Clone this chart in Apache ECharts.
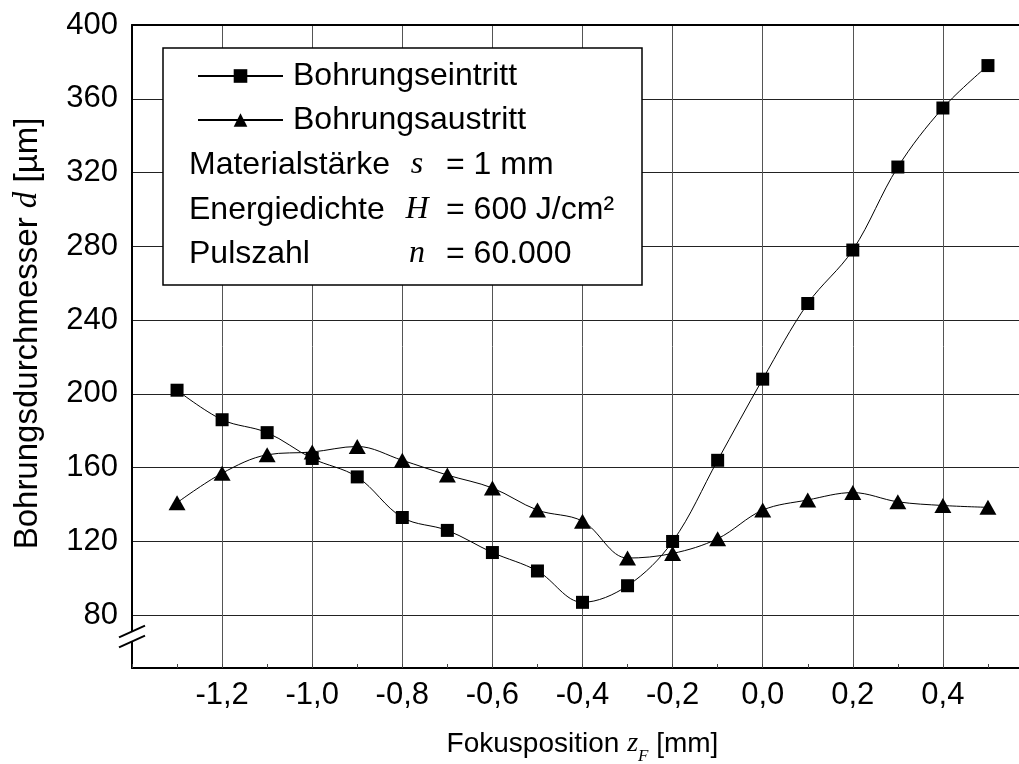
<!DOCTYPE html>
<html>
<head>
<meta charset="utf-8">
<script src="https://cdn.jsdelivr.net/npm/echarts@6/dist/echarts.min.js"></script>
<style>
  html, body { margin: 0; padding: 0; background: #fff; overflow: hidden; }
  /* the plot area runs on past the right edge of the page, up to z_F = 0,6 */
  #chart { width: 1033px; height: 764px; }
</style>
</head>
<body>
<div id="chart"></div>
<script>
// Focus position z_F in mm
const zF = [-1.3, -1.2, -1.1, -1.0, -0.9, -0.8, -0.7, -0.6, -0.5, -0.4,
            -0.3, -0.2, -0.1, 0.0, 0.1, 0.2, 0.3, 0.4, 0.5];
// Hole diameter at entrance, µm
const eintritt = [202, 186, 179, 165, 155, 133, 126, 114, 104, 87,
                  96, 120, 164, 208, 249, 278, 323, 355, 378];
// Hole diameter at exit, µm
const austritt = [141, 157, 167, 168.5, 171.5, 164, 156, 149, 137, 131,
                  111, 113.5, 121.5, 137, 142.5, 146.5, 141.5, 139.5, 138.5];
// y tick values (axis is broken below 80)
const yTicks = [80, 120, 160, 200, 240, 280, 320, 360, 400];
const seriesNames = ['Bohrungseintritt', 'Bohrungsaustritt'];
// process parameters shown in the info box
const paramLabels = ['Materialstärke', 'Energiedichte', 'Pulszahl'];
const paramSymbols = ['s', 'H', 'n'];
const paramValues = ['= 1 mm', '= 600 J/cm²', '= 60.000'];

const SANS = 'Liberation Sans, Arial, sans-serif';
const SERIF = 'Liberation Serif, Times New Roman, serif';
const X_MIN = -1.4, X_MAX = 0.6;
const Y_MIN = 51.4;     // bottom of the (broken) value axis
const Y_BREAK = 68.5;   // where the break mark sits

const chart = echarts.init(document.getElementById('chart'), null, { renderer: 'canvas' });

function fmtX(v) {
  if (Math.abs(v) < 1e-9) v = 0;
  return v.toFixed(1).replace('.', ',');
}

const option = {
  backgroundColor: '#fff',
  animation: false,
  textStyle: { fontFamily: SANS, color: '#000' },
  grid: {
    left: 132, top: 25, bottom: 96, right: 0, show: false,
    containLabel: false, outerBoundsMode: 'none'
  },
  legend: {
    data: seriesNames,
    orient: 'vertical',
    left: 197, top: 59,
    padding: 0,
    itemWidth: 85, itemHeight: 17, itemGap: 10,
    z: 5,
    textStyle: { fontFamily: SANS, fontSize: 32, lineHeight: 34, color: '#000', padding: [0, 0, 0, 5] },
    selectedMode: false
  },
  xAxis: [
    {
      type: 'value',
      min: X_MIN, max: X_MAX, interval: 0.2,
      name: 'Fokusposition {i|z}{sub|F} [mm]',
      nameLocation: 'middle',
      nameGap: 55,
      nameTextStyle: {
        fontFamily: SANS, fontSize: 28, color: '#000',
        rich: {
          i: { fontFamily: SERIF, fontStyle: 'italic', fontSize: 28, color: '#000' },
          sub: { fontFamily: SERIF, fontStyle: 'italic', fontSize: 17, color: '#000', padding: [25, 0, 0, 0] }
        }
      },
      axisLine: { show: true, onZero: false, lineStyle: { color: '#000', width: 2 } },
      axisTick: { show: true, inside: true, length: 4, lineStyle: { color: '#444', width: 1 } },
      minorTick: { show: true, splitNumber: 2, length: 4, lineStyle: { color: '#444', width: 1 } },
      axisLabel: {
        fontFamily: SANS, fontSize: 31, color: '#000', margin: 12,
        showMinLabel: false, showMaxLabel: false,
        formatter: fmtX
      },
      splitLine: { show: true, lineStyle: { color: '#555', width: 1 } }
    },
    {
      // frame line along the top of the plot
      type: 'value', position: 'top',
      min: X_MIN, max: X_MAX,
      axisLine: { show: true, onZero: false, lineStyle: { color: '#000', width: 2 } },
      axisTick: { show: false },
      axisLabel: { show: false },
      splitLine: { show: false }
    }
  ],
  yAxis: {
    type: 'value',
    min: Y_MIN, max: 400,
    name: 'Bohrungsdurchmesser {i|d} [µm]',
    nameLocation: 'middle',
    nameGap: 88,
    nameRotate: 90,
    nameTextStyle: {
      fontFamily: SANS, fontSize: 33, color: '#000', padding: [0, 0, 0, 26],
      rich: {
        i: { fontFamily: SERIF, fontStyle: 'italic', fontSize: 33, color: '#000' }
      }
    },
    axisLine: { show: true, onZero: false, lineStyle: { color: '#000', width: 2 } },
    axisTick: { show: false, customValues: yTicks },
    axisLabel: { fontFamily: SANS, fontSize: 31, color: '#000', margin: 14, customValues: yTicks },
    splitLine: { show: true, lineStyle: { color: '#222', width: 1 } }
  },
  series: [
    {
      name: seriesNames[0],
      type: 'line',
      xAxisIndex: 0,
      smooth: 0.35,
      data: zF.map((x, i) => [x, eintritt[i]]),
      symbol: 'rect', symbolSize: 13,
      itemStyle: { color: '#000' },
      lineStyle: { color: '#000', width: 1 },
      z: 2
    },
    {
      name: seriesNames[1],
      type: 'line',
      xAxisIndex: 0,
      smooth: 0.35,
      data: zF.map((x, i) => [x, austritt[i]]),
      symbol: 'triangle', symbolSize: [17, 15],
      itemStyle: { color: '#000' },
      lineStyle: { color: '#000', width: 1 },
      z: 2
    }
  ]
};

chart.setOption(option);

// info box with the process parameters, drawn behind the legend entries
const rowY = [165, 210, 254];
const boxElements = [
  {
    type: 'rect', z: 3,
    shape: { x: 163, y: 48, width: 479, height: 237 },
    style: { fill: '#fff', stroke: '#000', lineWidth: 1.5 }
  }
];
paramLabels.forEach((lab, i) => {
  boxElements.push({
    type: 'text', z: 6, x: 189, y: rowY[i],
    style: { text: lab, fontFamily: SANS, fontSize: 32, fill: '#000', verticalAlign: 'middle', align: 'left' }
  });
  boxElements.push({
    type: 'text', z: 6, x: 417, y: rowY[i],
    style: { text: paramSymbols[i], fontFamily: SERIF, fontStyle: 'italic', fontSize: 32, fill: '#000', verticalAlign: 'middle', align: 'center' }
  });
  boxElements.push({
    type: 'text', z: 6, x: 446, y: rowY[i],
    style: { text: paramValues[i], fontFamily: SANS, fontSize: 32, fill: '#000', verticalAlign: 'middle', align: 'left' }
  });
});

// axis break mark on the value axis
const bp = chart.convertToPixel({ xAxisIndex: 0, yAxisIndex: 0 }, [X_MIN, Y_BREAK]);
const cx = bp[0], cy = bp[1];
const breakElements = [
  {
    type: 'polygon', z: 10,
    shape: { points: [[cx - 13, cy + 0.9], [cx + 13, cy - 10.8], [cx + 13, cy - 0.8], [cx - 13, cy + 10.9]] },
    style: { fill: '#fff', stroke: null }
  },
  {
    type: 'line', z: 11,
    shape: { x1: cx - 13, y1: cy + 0.9, x2: cx + 13, y2: cy - 10.8 },
    style: { stroke: '#000', lineWidth: 2 }
  },
  {
    type: 'line', z: 11,
    shape: { x1: cx - 13, y1: cy + 10.9, x2: cx + 13, y2: cy - 0.8 },
    style: { stroke: '#000', lineWidth: 2 }
  }
];

chart.setOption({ graphic: boxElements.concat(breakElements) });
</script>
</body>
</html>
